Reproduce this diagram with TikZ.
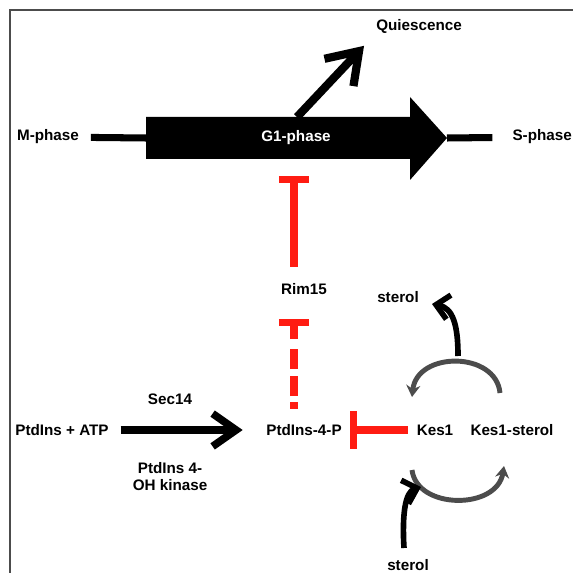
\documentclass[tikz,border=0pt]{standalone}
\usepackage{fontspec}
\setmainfont{Liberation Sans}
\usetikzlibrary{arrows.meta,positioning}
\definecolor{inhred}{RGB}{255,28,18}

\begin{document}
\begin{tikzpicture}[x=0.03cm,y=-0.03cm,
    lbl/.style={font=\fontsize{13}{14.5}\selectfont\bfseries,inner sep=2pt},
    frame/.style={draw=black!70,line width=1.6pt},
    track/.style={line width=6pt},
    act/.style={line width=6.5pt,-{Straight Barb[length=20pt,width=28pt]}},
    inhibit/.style={draw=inhred,line width=6pt,-{Bar[width=26pt]}},
    shuttle/.style={draw=black!70,line width=4.2pt,-{Stealth[length=10pt,width=12pt]}},
    sterolarrow/.style={line width=4.8pt,-{Straight Barb[length=11pt,width=21pt]}}
]
\useasboundingbox (0,0) rectangle (573,573);

% Frame (top and left only)
\draw[frame] (10,573) -- (10,10) -- (573,10);

% Cell cycle
\fill (146,117) -- (410,117) -- (410,97) -- (447,138) -- (410,180) -- (410,159) -- (146,159) -- cycle;
\coordinate (g1tail) at (146,138);
\coordinate (g1head) at (447,138);
\coordinate (g1up) at (297,117);
\node[lbl] (mphase) at (48,137) {M-phase};
\node[lbl,anchor=west] (sphase) at (510,137) {S-phase};
\node[lbl,text=white] (g1) at (296,138) {G1-phase};
\node[lbl] (quiesc) at (419,26) {Quiescence};

\draw[track,shorten <=8pt] (mphase) -- (g1tail);
\draw[track,shorten >=15pt] (g1head) -- (sphase);
\draw[act,line width=7pt,-{Straight Barb[length=25pt,width=34pt]},shorten >=12pt] (g1up) -- (quiesc.south west);

% Rim15 and PtdIns-4-P
\node[lbl] (rim) at (304,289) {Rim15};
\node[lbl] (ptd) at (62,430) {PtdIns + ATP};
\node[lbl] (pip) at (304,430) {PtdIns-4-P};
\node[lbl] (sec) at (170,399) {Sec14};
\node[lbl,align=center] (kinase) at (170,477) {PtdIns 4-\\OH kinase};

\coordinate (g1bar) at (294,176);
\coordinate (rimbar) at (294,319);
\draw[inhibit,shorten <=12pt] (rim.north -| g1bar) -- (g1bar);
\draw[inhibit,shorten <=11pt,dash pattern=on 6pt off 5pt on 17pt off 6pt on 17pt off 8.5pt on 60pt] (pip.north -| rimbar) -- (rimbar);
\draw[act,shorten <=8pt,shorten >=18pt] (ptd) -- (pip);

% Kes1 sterol exchange
\node[lbl] (kes) at (435,430) {Kes1};
\node[lbl] (kessterol) at (512,430) {Kes1-sterol};
\node[lbl] (sterolup) at (398,297) {sterol};
\node[lbl] (sterollow) at (408,565) {sterol};

\draw[inhibit,-{Bar[width=32pt]},shorten <=5.5pt,shorten >=4.8pt] (kes) -- (pip);

\coordinate (cyc1) at (500,393);
\coordinate (cyc2) at (412,397);
\coordinate (cyc3) at (412,470);
\coordinate (cyc4) at (504,466);
\draw[shuttle] (cyc1) .. controls (496,351) and (417,351) .. (cyc2);
\draw[shuttle] (cyc3) .. controls (417,510) and (497,510) .. (cyc4);

\coordinate (upsrc) at (458,356);
\coordinate (uptip) at (432,304);
\coordinate (lowsrc) at (404,548);
\coordinate (lowtip) at (421,487);
\draw[sterolarrow] (upsrc) .. controls (458,325) and (453,308) .. (uptip);
\draw[sterolarrow] (lowsrc) .. controls (402,515) and (405,492) .. (lowtip);

\end{tikzpicture}
\end{document}
